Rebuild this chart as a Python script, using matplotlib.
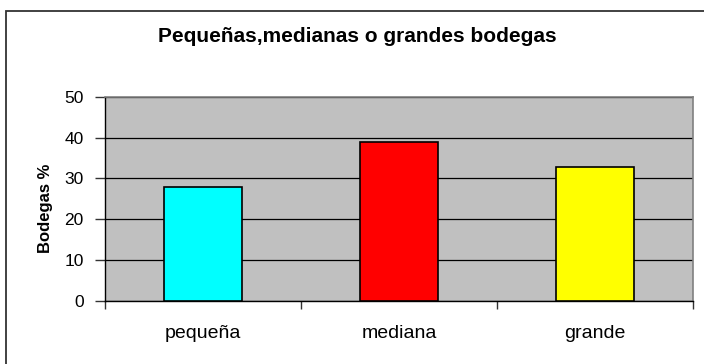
import matplotlib
matplotlib.use("Agg")
import matplotlib.pyplot as plt
from matplotlib.patches import Rectangle
from matplotlib.ticker import FixedLocator

plt.rcParams['font.family'] = ['Liberation Sans', 'DejaVu Sans']

categories = ["pequeña", "mediana", "grande"]
values = [28, 39, 32.7]
bar_colors = ["#00FFFF", "#FF0000", "#FFFF00"]
y_ticks = [0, 10, 20, 30, 40, 50]

fig = plt.figure(figsize=(7.04, 3.64), dpi=100)
fig.patch.set_facecolor("white")

# chart-area frame
fig.patches.append(Rectangle((6 / 704, -0.05), 1.2, 1 - 10.5 / 364 + 0.05,
                             transform=fig.transFigure, fill=False,
                             edgecolor="#333333", linewidth=1.3))

ax = fig.add_axes([104.7 / 704, 1 - 301 / 364, (693.3 - 104.7) / 704, (301 - 96.7) / 364])
ax.set_facecolor("#C0C0C0")

x = range(len(categories))
ax.bar(x, values, width=0.4, color=bar_colors, edgecolor="black", linewidth=1.2, zorder=3)

ax.set_xlim(-0.5, len(categories) - 0.5)
ax.set_ylim(0, 50)
ax.set_yticks(y_ticks)
ax.yaxis.grid(True, color="black", linewidth=0.9, zorder=1)
ax.set_axisbelow(True)

ax.set_xticks(list(x))
ax.set_xticklabels(categories, fontsize=14)
ax.tick_params(axis="x", which="major", length=0, pad=17)
ax.xaxis.set_minor_locator(FixedLocator([-0.5 + i for i in range(len(categories) + 1)]))
ax.tick_params(axis="x", which="minor", length=6, width=1, color="#333333")
ax.tick_params(axis="y", length=7, width=1, labelsize=12.5, pad=8, color="#333333")

for s in ["top", "right"]:
    ax.spines[s].set_color("#808080")
    ax.spines[s].set_linewidth(1.2)
for s in ["left", "bottom"]:
    ax.spines[s].set_color("black")
    ax.spines[s].set_linewidth(1.0)

ax.set_ylabel("Bodegas %", fontsize=12, fontweight="bold")
ax.yaxis.set_label_coords(-0.087, 0.455)

fig.text(357 / 704, 1 - 36 / 364, "Pequeñas,medianas o grandes bodegas",
         ha="center", va="center", fontsize=15, fontweight="bold")

fig.savefig("out.png", dpi=100)
